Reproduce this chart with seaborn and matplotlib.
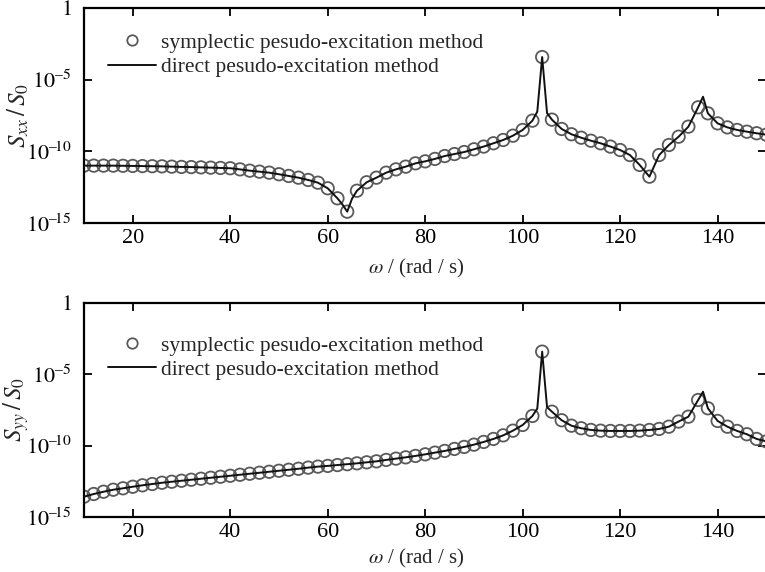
import numpy as np
import pandas as pd
import matplotlib
matplotlib.use("Agg")
import matplotlib.pyplot as plt
import seaborn as sns
from matplotlib.ticker import FixedLocator, FixedFormatter, NullLocator

# ---------------- data (log10 of S/S0) ----------------
omega = list(range(10, 151, 2))  # symplectic sample points

sxx_log = [-11.00, -11.00, -11.00, -11.00, -11.01, -11.02, -11.03, -11.04, -11.05, -11.07,
           -11.09, -11.10, -11.12, -11.14, -11.16, -11.18, -11.26, -11.35, -11.42, -11.49,
           -11.60, -11.72, -11.84, -12.00, -12.19, -12.58, -13.28, -14.21, -12.75, -12.16,
           -11.84, -11.49, -11.26, -11.07, -10.84, -10.70, -10.53, -10.33, -10.19, -10.05,
           -9.86, -9.67, -9.44, -9.21, -8.91, -8.51, -7.86, -3.42, -7.79, -8.44,
           -8.81, -9.05, -9.26, -9.44, -9.67, -9.91, -10.26, -10.95, -11.77, -10.26,
           -9.56, -8.98, -8.28, -6.93, -7.35, -8.05, -8.33, -8.51, -8.63, -8.74,
           -8.84]

syy_log = [-13.58, -13.39, -13.23, -13.09, -12.99, -12.88, -12.78, -12.69, -12.60, -12.53,
           -12.46, -12.39, -12.32, -12.25, -12.18, -12.11, -12.04, -11.97, -11.90, -11.83,
           -11.76, -11.69, -11.62, -11.54, -11.47, -11.42, -11.36, -11.30, -11.24, -11.17,
           -11.10, -11.00, -10.91, -10.82, -10.72, -10.61, -10.49, -10.37, -10.23, -10.09,
           -9.93, -9.74, -9.53, -9.28, -8.95, -8.55, -7.92, -3.41, -7.62, -8.22,
           -8.60, -8.78, -8.90, -8.95, -8.97, -8.97, -8.97, -8.95, -8.90, -8.83,
           -8.67, -8.31, -7.97, -6.80, -7.38, -8.27, -8.67, -8.97, -9.20, -9.53,
           -9.70]

# extra points of the direct method curve (between symplectic samples)
extra_omega = [63, 65, 103, 105, 137]
extra_sxx_log = [-13.70, -13.30, -7.23, -7.33, -6.19]
extra_syy_log = [-11.33, -11.27, -7.40, -7.30, -6.22]

legend_labels = ["symplectic pesudo-excitation method", "direct pesudo-excitation method"]
ytick_vals = [1e-15, 1e-10, 1e-5, 1]
ytick_labels = ["$10^{\u2013\\!15}$", "$10^{\u2013\\!10}$", "$10^{\u20135}$", "$1$"]
xtick_vals = [20, 40, 60, 80, 100, 120, 140]
ylabels = [r"$S_{xx}\,/\,S_0$", r"$S_{yy}\,/\,S_0$"]
xlabel = r"$\omega$ / (rad / s)"

# ---------------- style ----------------
sns.set_theme(style="ticks")
plt.rcParams["font.family"] = ["Liberation Serif", "DejaVu Serif"]
plt.rcParams["mathtext.fontset"] = "stix"
plt.rcParams["axes.linewidth"] = 1.6

fig = plt.figure(figsize=(7.65, 5.72), dpi=100)
ax1 = fig.add_axes([0.1098, 0.6102, 0.892, 0.3758])
ax2 = fig.add_axes([0.1098, 0.0962, 0.892, 0.3741])


def draw(ax, ylog, extra_log, ylabel, leg_y, xlab_y):
    sym = pd.DataFrame({"w": omega, "S": 10.0 ** np.array(ylog)})
    direct = pd.concat([sym, pd.DataFrame({"w": extra_omega,
                                           "S": 10.0 ** np.array(extra_log)})])
    direct = direct.sort_values("w").reset_index(drop=True)

    sns.scatterplot(data=sym, x="w", y="S", ax=ax, marker="o", s=80,
                    facecolors="none", edgecolor="#5a5a5a", linewidth=1.3,
                    zorder=2, legend=False)
    sns.lineplot(data=direct, x="w", y="S", ax=ax, color="#111111",
                 linewidth=1.4, zorder=3, legend=False, estimator=None, sort=True)

    ax.set_yscale("log")
    ax.set_xlim(10, 150)
    ax.set_ylim(1e-15, 1)
    ax.yaxis.set_major_locator(FixedLocator(ytick_vals))
    ax.yaxis.set_major_formatter(FixedFormatter(ytick_labels))
    ax.yaxis.set_minor_locator(NullLocator())
    ax.set_xticks(xtick_vals)
    ax.set_xticklabels([str(v) for v in xtick_vals])
    ax.tick_params(direction="in", length=6, width=1.3, top=True, right=True,
                   labelsize=16, colors="black", pad=4)
    ax.tick_params(axis="y", pad=9)
    for s in ax.spines.values():
        s.set_visible(True)
        s.set_color("black")
    ax.set_xlabel(xlabel, fontsize=15)
    ax.xaxis.set_label_coords(0.487, xlab_y)
    ax.set_ylabel(ylabel, fontsize=18)
    ax.yaxis.set_label_coords(-0.078, 0.5)

    h_sym = plt.Line2D([], [], marker="o", linestyle="none", markersize=7.5,
                       markerfacecolor="none", markeredgecolor="#5a5a5a",
                       markeredgewidth=1.3)
    h_dir = plt.Line2D([], [], color="#111111", linewidth=1.4)
    ax.legend([h_sym, h_dir], legend_labels, loc="upper left", frameon=False,
              fontsize=15.5, bbox_to_anchor=(0.022, leg_y), handlelength=2.25,
              handletextpad=0.25, labelspacing=0.2, borderaxespad=0.0)


draw(ax1, sxx_log, extra_sxx_log, ylabels[0], 0.925, -0.158)
draw(ax2, syy_log, extra_syy_log, ylabels[1], 0.888, -0.138)

fig.savefig("out.png", dpi=100)
